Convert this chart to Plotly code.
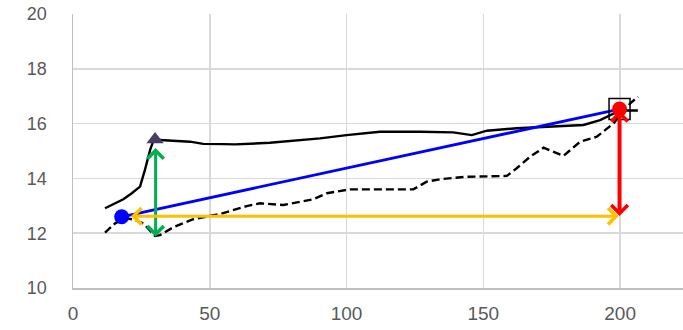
import plotly.graph_objects as go

# Solid black curve
solid_x = [11.7, 18.4, 21.5, 24.5, 26.3, 28.2, 29.7, 31.8, 42.8, 47.6, 55.0, 59.2, 72.0, 83.0,
           90.3, 100.0, 108.6, 112.2, 126.9, 139.0, 145.8, 151.3, 162.2, 186.6, 192.7, 196.3,
           200.0, 206.5]
solid_y = [12.91, 13.24, 13.46, 13.70, 14.31, 15.04, 15.46, 15.40, 15.34, 15.26, 15.25, 15.24,
           15.30, 15.38, 15.46, 15.58, 15.65, 15.70, 15.70, 15.68, 15.58, 15.74, 15.83, 15.95,
           16.13, 16.31, 16.48, 16.48]

# Dashed black curve
dashed_x = [11.7, 15.4, 19.0, 22.0, 25.7, 30.0, 31.8, 36.7, 44.0, 53.7, 63.5, 68.4, 76.9, 87.9,
            92.8, 101.3, 124.4, 129.3, 134.2, 143.9, 158.6, 162.2, 167.1, 172.0, 179.3, 185.4,
            191.5, 197.6, 203.7, 206.6]
dashed_y = [12.02, 12.36, 12.55, 12.50, 12.36, 11.90, 11.93, 12.22, 12.51, 12.70, 12.99, 13.09,
            13.03, 13.24, 13.46, 13.60, 13.60, 13.88, 13.97, 14.06, 14.09, 14.37, 14.79, 15.12,
            14.82, 15.34, 15.52, 16.01, 16.74, 16.98]

# Key points
start_pt = (17.8, 12.6)      # blue dot
end_pt = (199.8, 16.53)      # red dot / square
peak_pt = (30.0, 15.42)      # triangle

# Arrows: (x_start, y_start, x_end, y_end)
green_arrow = (30.2, 15.16, 30.2, 11.87)
orange_arrow = (20.6, 12.62, 199.5, 12.62)
red_arrow = (199.8, 16.53, 199.8, 12.63)

x_ticks = [0, 50, 100, 150, 200]
y_ticks = [10, 12, 14, 16, 18, 20]

fig = go.Figure()

fig.add_trace(go.Scatter(x=dashed_x, y=dashed_y, mode="lines",
                         line=dict(color="black", width=2.4, dash="8px,4px")))
fig.add_trace(go.Scatter(x=solid_x, y=solid_y, mode="lines",
                         line=dict(color="black", width=2.4)))
fig.add_trace(go.Scatter(x=[start_pt[0], end_pt[0]], y=[start_pt[1], end_pt[1]], mode="lines",
                         line=dict(color="#0000ff", width=2.8)))
fig.add_trace(go.Scatter(x=[end_pt[0]], y=[end_pt[1]], mode="markers",
                         marker=dict(symbol="square-open", size=21,
                                     line=dict(color="black", width=1.5), color="black")))
fig.add_trace(go.Scatter(x=[end_pt[0]], y=[end_pt[1]], mode="markers",
                         marker=dict(symbol="circle", size=15, color="#ff0000")))
fig.add_trace(go.Scatter(x=[start_pt[0]], y=[start_pt[1]], mode="markers",
                         marker=dict(symbol="circle", size=15, color="#0000ff")))
fig.add_trace(go.Scatter(x=[peak_pt[0]], y=[peak_pt[1]], mode="markers",
                         marker=dict(symbol="triangle-up", size=15, color="#4a3b66")))


def add_arrow(a, color, width, size, side="end+start"):
    x0, y0, x1, y1 = a
    fig.add_annotation(x=x1, y=y1, ax=x0, ay=y0, xref="x", yref="y", axref="x", ayref="y",
                       text="", showarrow=True, arrowhead=4, startarrowhead=4,
                       arrowsize=size, startarrowsize=size, arrowwidth=width,
                       arrowcolor=color, arrowside=side, standoff=0, startstandoff=0)


add_arrow(green_arrow, "#00b050", 3, 1.05)
add_arrow(orange_arrow, "#ffc000", 3, 1.05)
add_arrow(red_arrow, "#ff0000", 4, 0.8)

axis_font = dict(family="Liberation Sans, Arial, sans-serif", color="#595959")

fig.update_layout(
    width=683, height=330,
    margin=dict(l=73, r=0, t=14, b=42),
    paper_bgcolor="white", plot_bgcolor="white",
    showlegend=False, hovermode=False,
    xaxis=dict(range=[0, 223], tickvals=x_ticks, showgrid=True, gridcolor="#d9d9d9",
               gridwidth=1.5, showline=True, linecolor="#bfbfbf", linewidth=1.5,
               zeroline=False, ticks="outside", ticklen=8, tickcolor="rgba(0,0,0,0)",
               tickfont=dict(size=19, **axis_font)),
    yaxis=dict(range=[10, 20], tickvals=y_ticks, showgrid=True, gridcolor="#d9d9d9",
               gridwidth=1.5, showline=True, linecolor="#bfbfbf", linewidth=1.5,
               zeroline=False, ticks="outside", ticklen=21, tickcolor="rgba(0,0,0,0)",
               tickfont=dict(size=18, **axis_font)),
)

fig.write_html("out.html", config={"displayModeBar": False, "staticPlot": True},
               post_script="document.body.style.margin='0';document.body.style.overflow='hidden';")
